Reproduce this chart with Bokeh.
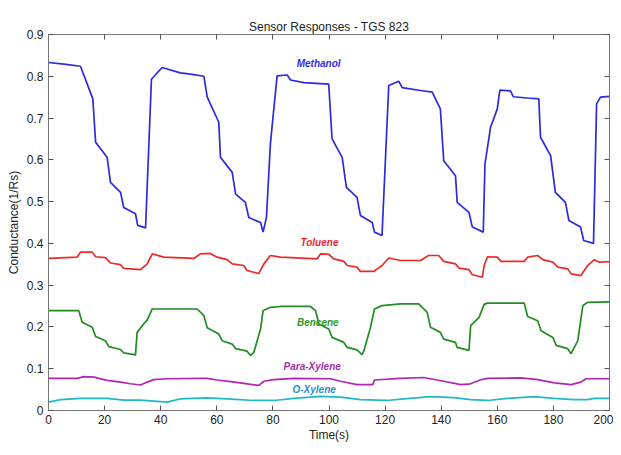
from bokeh.plotting import figure
from bokeh.models import Range1d, FixedTicker, LinearAxis, ColumnDataSource
from bokeh.core.properties import value
from bokeh.embed import file_html
from bokeh.resources import INLINE

# ---------------- data ----------------
methanol_t = [0, 5.5, 11.4, 15.8, 16.8, 20.9, 22.1, 25.7, 26.8, 31.0, 31.8, 34.6, 36.7, 40.5, 47.0,
              50.6, 55.4, 56.6, 60.7, 61.3, 65.5, 66.7, 70.2, 71.4, 75.6, 76.5, 77.7, 79.1, 81.5,
              85.1, 86.3, 91.0, 99.9, 101.1, 104.7, 106.2, 110.0, 111.2, 115.4, 116.2, 118.9,
              121.3, 124.9, 126.1, 132.6, 136.8, 139.7, 140.9, 145.1, 145.7, 149.9, 151.1, 155.0,
              155.6, 157.6, 160.0, 160.9, 164.7, 165.7, 170.7, 174.8, 175.4, 179.0, 180.7, 184.3,
              185.5, 189.7, 190.8, 194.3, 195.4, 196.8, 200]
methanol_v = [0.833, 0.829, 0.824, 0.746, 0.642, 0.606, 0.546, 0.522, 0.486, 0.471, 0.443, 0.437,
              0.793, 0.821, 0.808, 0.805, 0.800, 0.750, 0.690, 0.606, 0.570, 0.518, 0.498, 0.462,
              0.450, 0.427, 0.462, 0.638, 0.801, 0.803, 0.791, 0.785, 0.781, 0.650, 0.606, 0.534,
              0.510, 0.467, 0.450, 0.427, 0.419, 0.778, 0.788, 0.773, 0.766, 0.762, 0.722, 0.598,
              0.562, 0.498, 0.474, 0.439, 0.427, 0.590, 0.678, 0.722, 0.767, 0.765, 0.751, 0.748,
              0.746, 0.654, 0.610, 0.522, 0.498, 0.455, 0.439, 0.407, 0.400, 0.734, 0.750, 0.752]

toluene_t = [0, 10.2, 11.4, 15.6, 16.8, 20.3, 22.1, 25.7, 26.8, 32.8, 35.2, 37.0, 41.1, 51.8, 54.2,
             57.7, 60.1, 63.7, 65.5, 69.6, 70.8, 75.0, 76.8, 79.1, 82.7, 95.8, 97.0, 99.9, 101.7,
             105.3, 106.5, 110.0, 111.2, 116.0, 118.9, 121.3, 125.5, 132.6, 135.5, 139.1, 140.9,
             145.1, 146.3, 149.9, 151.1, 154.7, 155.3, 156.5, 160.0, 161.3, 169.6, 170.8, 174.4,
             176.2, 179.8, 181.6, 185.1, 186.3, 189.8, 192.2, 194.6, 196.4, 200]
toluene_v = [0.364, 0.367, 0.379, 0.379, 0.368, 0.366, 0.353, 0.349, 0.340, 0.337, 0.351, 0.375,
             0.367, 0.364, 0.375, 0.376, 0.367, 0.361, 0.351, 0.347, 0.335, 0.328, 0.351, 0.371,
             0.367, 0.363, 0.375, 0.374, 0.363, 0.357, 0.347, 0.343, 0.333, 0.333, 0.347, 0.365,
             0.359, 0.359, 0.371, 0.371, 0.357, 0.351, 0.341, 0.337, 0.325, 0.319, 0.347, 0.368,
             0.367, 0.357, 0.357, 0.367, 0.371, 0.361, 0.355, 0.343, 0.339, 0.327, 0.323, 0.347,
             0.361, 0.355, 0.356]

bencene_t = [0, 10.8, 12.0, 15.6, 16.8, 20.3, 21.5, 25.7, 26.8, 31.0, 31.6, 33.4, 35.2, 37.0, 53.0,
             55.4, 56.6, 60.7, 61.9, 65.5, 66.7, 70.8, 72.0, 73.2, 75.6, 76.5, 79.1, 82.7, 93.4,
             95.2, 96.4, 99.9, 101.1, 105.3, 106.5, 110.0, 111.8, 112.4, 114.8, 116.2, 118.9,
             125.5, 132.0, 135.0, 136.2, 139.7, 140.9, 145.1, 145.7, 149.9, 150.5, 153.5, 155.3,
             156.5, 169.6, 170.8, 174.4, 175.6, 179.8, 181.0, 185.1, 186.3, 188.7, 190.5, 192.2, 200]
bencene_v = [0.239, 0.239, 0.211, 0.199, 0.177, 0.167, 0.153, 0.146, 0.138, 0.133, 0.187, 0.203,
             0.217, 0.243, 0.243, 0.227, 0.198, 0.183, 0.167, 0.159, 0.148, 0.142, 0.132, 0.139,
             0.195, 0.239, 0.247, 0.249, 0.249, 0.239, 0.207, 0.195, 0.175, 0.163, 0.151, 0.145,
             0.134, 0.142, 0.199, 0.243, 0.251, 0.255, 0.255, 0.235, 0.199, 0.187, 0.171, 0.163,
             0.151, 0.144, 0.203, 0.223, 0.254, 0.257, 0.257, 0.225, 0.215, 0.191, 0.175, 0.156,
             0.148, 0.136, 0.167, 0.251, 0.259, 0.260]

paraxylene_t = [0, 10.2, 12.6, 16.2, 20.9, 25.7, 29.2, 32.8, 35.2, 37.5, 42.3, 54.2, 56.6, 60.1,
                64.9, 69.6, 75.0, 76.8, 80.3, 87.5, 100.5, 104.1, 110.0, 115.6, 116.2, 125.5,
                133.8, 140.9, 146.9, 149.9, 153.9, 156.5, 168.4, 174.4, 180.3, 186.3, 189.8, 191.6, 200]
paraxylene_v = [0.077, 0.077, 0.081, 0.080, 0.072, 0.068, 0.064, 0.061, 0.068, 0.074, 0.076, 0.077,
                0.077, 0.073, 0.069, 0.065, 0.060, 0.070, 0.074, 0.077, 0.076, 0.070, 0.062, 0.062,
                0.073, 0.077, 0.079, 0.070, 0.062, 0.063, 0.073, 0.077, 0.078, 0.074, 0.066, 0.062,
                0.068, 0.076, 0.076]

oxylene_t = [0, 4.3, 11.4, 20.9, 26.8, 32.8, 38.7, 42.3, 47.0, 56.6, 63.7, 73.2, 80.3, 87.5, 97.0,
             104.1, 111.2, 120.7, 126.7, 136.2, 144.5, 150.5, 156.5, 163.6, 173.1, 180.2, 187.3,
             192.1, 194.5, 200]
oxylene_v = [0.020, 0.026, 0.029, 0.029, 0.025, 0.025, 0.022, 0.020, 0.028, 0.030, 0.028, 0.024,
             0.024, 0.029, 0.034, 0.032, 0.026, 0.024, 0.028, 0.033, 0.031, 0.026, 0.024, 0.029,
             0.033, 0.029, 0.026, 0.026, 0.029, 0.029]

series_names = ["Methanol", "Toluene", "Bencene", "Para-Xylene", "O-Xylene"]
x_ticks = [0, 20, 40, 60, 80, 100, 120, 140, 160, 180, 200]
y_ticks = [0, 0.1, 0.2, 0.3, 0.4, 0.5, 0.6, 0.7, 0.8, 0.9]

# label anchor positions (annotation placement)
label_x = [96.3, 96.6, 96.0, 94.0, 94.7]
label_y = [0.830, 0.402, 0.210, 0.105, 0.050]

colors = ["#2a2ae0", "#ee2828", "#228b22", "#b026b0", "#20b8c8"]
label_colors = ["#3030e8", "#ee2828", "#2a9a2a", "#a030a8", "#2a90c8"]

FONT = "Liberation Sans"

p = figure(width=613, height=447, output_backend="svg", toolbar_location=None,
           x_range=Range1d(0, 200), y_range=Range1d(0, 0.9),
           min_border_left=48, min_border_right=4, min_border_top=34, min_border_bottom=37,
           title="Sensor Responses - TGS 823")
p.title.align = "center"
p.title.text_font = FONT
p.title.text_font_size = "12px"
p.title.text_font_style = "normal"
p.title.text_color = "#222222"
p.title.standoff = 2
p.xgrid.visible = False
p.ygrid.visible = False
p.outline_line_color = "#777777"
p.outline_line_width = 1

all_t = [methanol_t, toluene_t, bencene_t, paraxylene_t, oxylene_t]
all_v = [methanol_v, toluene_v, bencene_v, paraxylene_v, oxylene_v]
for t, v, c in zip(all_t, all_v, colors):
    p.line(t, v, line_color=c, line_width=1.7)

src = ColumnDataSource(dict(x=label_x, y=label_y, text=series_names, color=label_colors))
p.text(x="x", y="y", text="text", source=src, text_color="color",
       text_font=value(FONT), text_font_size="10px", text_font_style="bold italic",
       text_align="center", text_baseline="middle")

def style_axis(ax, show_labels):
    ax.axis_line_color = "#777777"
    ax.major_tick_line_color = "#555555"
    ax.major_tick_in = 5
    ax.major_tick_out = 0
    ax.minor_tick_line_color = None
    if show_labels:
        ax.major_label_text_font = FONT
        ax.major_label_text_font_size = "12px"
        ax.major_label_text_color = "#222222"
        ax.axis_label_text_font = FONT
        ax.axis_label_text_font_size = "12px"
        ax.axis_label_text_font_style = "normal"
        ax.axis_label_text_color = "#222222"
    else:
        ax.major_label_text_font_size = "1px"
        ax.major_label_text_color = None
        ax.major_label_standoff = 0

xax = p.xaxis[0]
xax.ticker = FixedTicker(ticks=x_ticks)
xax.axis_label = "Time(s)"
style_axis(xax, True)
xax.major_label_standoff = 4
xax.axis_label_standoff = 1

yax = p.yaxis[0]
yax.ticker = FixedTicker(ticks=y_ticks)
yax.axis_label = "Conductance(1/Rs)"
yax.major_label_overrides = {0: "0"}
style_axis(yax, True)
yax.major_label_standoff = 5
yax.axis_label_standoff = 3

top = LinearAxis(ticker=FixedTicker(ticks=x_ticks))
style_axis(top, False)
p.add_layout(top, "above")
right = LinearAxis(ticker=FixedTicker(ticks=y_ticks))
style_axis(right, False)
p.add_layout(right, "right")

open("out.html", "w").write(file_html(p, INLINE))
